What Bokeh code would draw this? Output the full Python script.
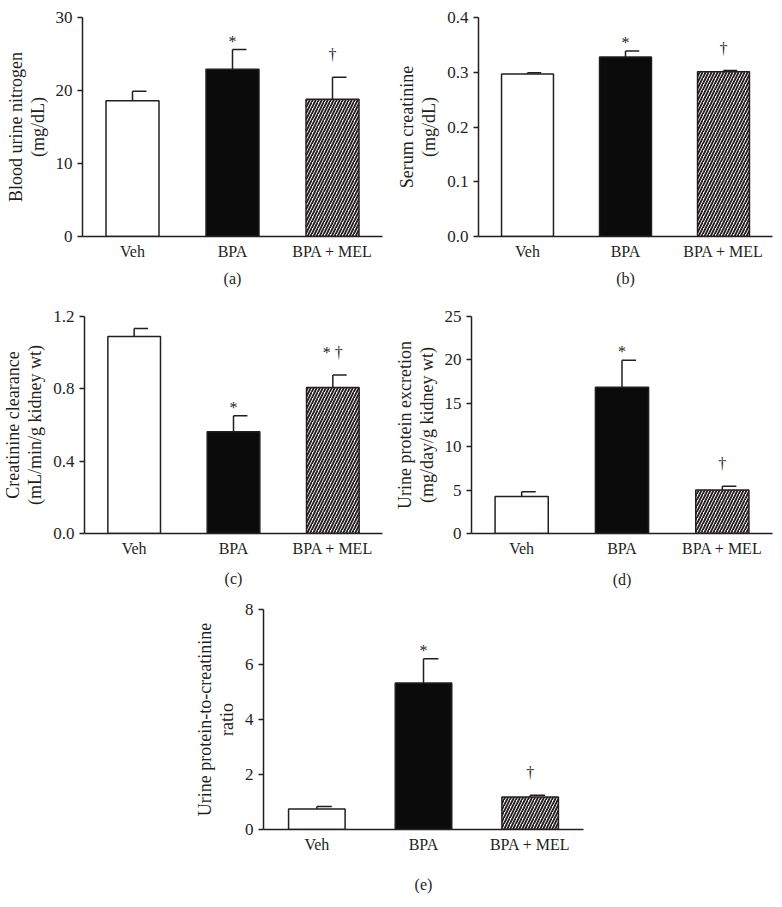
from bokeh.plotting import figure
from bokeh.models import Range1d, FactorRange, FixedTicker, PrintfTickFormatter, ColumnDataSource
from bokeh.transform import dodge
from bokeh.layouts import column, row
from bokeh.embed import file_html
from bokeh.resources import INLINE
from bokeh.core.properties import value

groups = ["Veh", "BPA", "BPA + MEL"]

bun_mean = [18.6, 22.9, 18.8]
bun_sem = [1.3, 2.7, 3.0]
scr_mean = [0.297, 0.328, 0.301]
scr_sem = [0.002, 0.011, 0.002]
ccr_mean = [1.09, 0.563, 0.807]
ccr_sem = [0.044, 0.088, 0.069]
upe_mean = [4.25, 16.84, 5.0]
upe_sem = [0.56, 3.12, 0.45]
upcr_mean = [0.75, 5.33, 1.18]
upcr_sem = [0.09, 0.88, 0.07]

sig_a = ["", "*", "†"]
sig_b = ["", "*", "†"]
sig_c = ["", "*", "* †"]
sig_d = ["", "*", "†"]
sig_e = ["", "*", "†"]

bar_fill = ["white", "#0b0b0b", "white"]
bar_hatch = [" ", " ", "/"]

FONT = "Liberation Serif"
FS = "16px"
TICK_FS = "17px"
YLAB_FS = "18px"
INK = "#231f20"


def make_panel(mean, sem, sig, ylabel, plabel, ymax, ticks, fmt,
               width, height, bl, br, bt, bb, label_off):
    p = figure(x_range=FactorRange(*groups, range_padding=0),
               y_range=Range1d(0, ymax),
               width=width, height=height,
               output_backend="svg", toolbar_location=None,
               min_border_left=bl, min_border_right=br,
               min_border_top=bt, min_border_bottom=bb)
    p.outline_line_color = None
    p.xgrid.visible = False
    p.ygrid.visible = False
    p.background_fill_color = "white"
    p.border_fill_color = "white"

    top = [m + s for m, s in zip(mean, sem)]
    offs = [-14 if "†" in s else 0 for s in sig]
    src = ColumnDataSource(dict(g=groups, m=mean, top=top, sig=sig, off=offs,
                                fill=bar_fill, hatch=bar_hatch))
    p.segment(x0="g", y0="m", x1="g", y1="top", source=src,
              line_color=INK, line_width=1.5)
    p.segment(x0="g", y0="top", x1=dodge("g", 0.14, range=p.x_range), y1="top",
              source=src, line_color=INK, line_width=1.5)
    p.vbar(x="g", top="m", width=0.53, source=src, fill_color="fill",
           line_color=INK, line_width=1.5, hatch_pattern="hatch",
           hatch_color=INK, hatch_scale=6, hatch_weight=1.9)
    p.text(x="g", y="top", text="sig", source=src, text_align="center",
           text_baseline="bottom", y_offset="off", text_font=value(FONT),
           text_font_size=FS, text_color=INK)

    xa = p.xaxis[0]
    xa.axis_line_width = 1.5
    xa.axis_line_color = INK
    xa.major_tick_line_color = None
    xa.minor_tick_line_color = None
    xa.major_tick_out = 0
    xa.major_tick_in = 0
    xa.major_label_standoff = 6
    xa.major_label_text_font = FONT
    xa.major_label_text_font_size = FS
    xa.major_label_text_color = INK
    xa.axis_label = plabel
    xa.axis_label_text_font = FONT
    xa.axis_label_text_font_size = FS
    xa.axis_label_text_font_style = "normal"
    xa.axis_label_text_color = INK
    xa.axis_label_standoff = label_off - 34

    ya = p.yaxis[0]
    ya.ticker = FixedTicker(ticks=ticks)
    if fmt:
        ya.formatter = PrintfTickFormatter(format=fmt)
    ya.axis_line_width = 1.5
    ya.axis_line_color = INK
    ya.major_tick_line_width = 1.5
    ya.major_tick_line_color = INK
    ya.major_tick_out = 5
    ya.major_tick_in = 0
    ya.minor_tick_line_color = None
    ya.major_label_standoff = 5
    ya.major_label_text_font = FONT
    ya.major_label_text_font_size = TICK_FS
    ya.major_label_text_color = INK
    ya.axis_label = ylabel
    ya.axis_label_text_font = FONT
    ya.axis_label_text_font_size = YLAB_FS
    ya.axis_label_text_font_style = "normal"
    ya.axis_label_text_color = INK
    ya.axis_label_text_line_height = 1.1
    ya.axis_label_standoff = 5
    return p


pa = make_panel(bun_mean, bun_sem, sig_a, "Blood urine nitrogen\n(mg/dL)", "(a)",
                30, [0, 10, 20, 30], None, 391, 290, 82, 9, 17, 54, 41)
pb = make_panel(scr_mean, scr_sem, sig_b, "Serum creatinine\n(mg/dL)", "(b)",
                0.4, [0.0, 0.1, 0.2, 0.3, 0.4], "%.1f", 391, 290, 87, 10, 15, 54, 41)
pc = make_panel(ccr_mean, ccr_sem, sig_c, "Creatinine clearance\n(mL/min/g kidney wt)", "(c)",
                1.2, [0.0, 0.4, 0.8, 1.2], "%.1f", 391, 300, 82, 9, 26, 56, 44)
pd = make_panel(upe_mean, upe_sem, sig_d, "Urine protein excretion\n(mg/day/g kidney wt)", "(d)",
                25, [0, 5, 10, 15, 20, 25], None, 391, 300, 77, 10, 22, 57, 45)
pe = make_panel(upcr_mean, upcr_sem, sig_e, "Urine protein-to-creatinine\nratio", "(e)",
                8, [0, 2, 4, 6, 8], None, 782, 317, 263, 199, 19, 78, 54)

layout = column(row(pa, pb), row(pc, pd), pe)

open("out.html", "w").write(file_html(layout, INLINE))
